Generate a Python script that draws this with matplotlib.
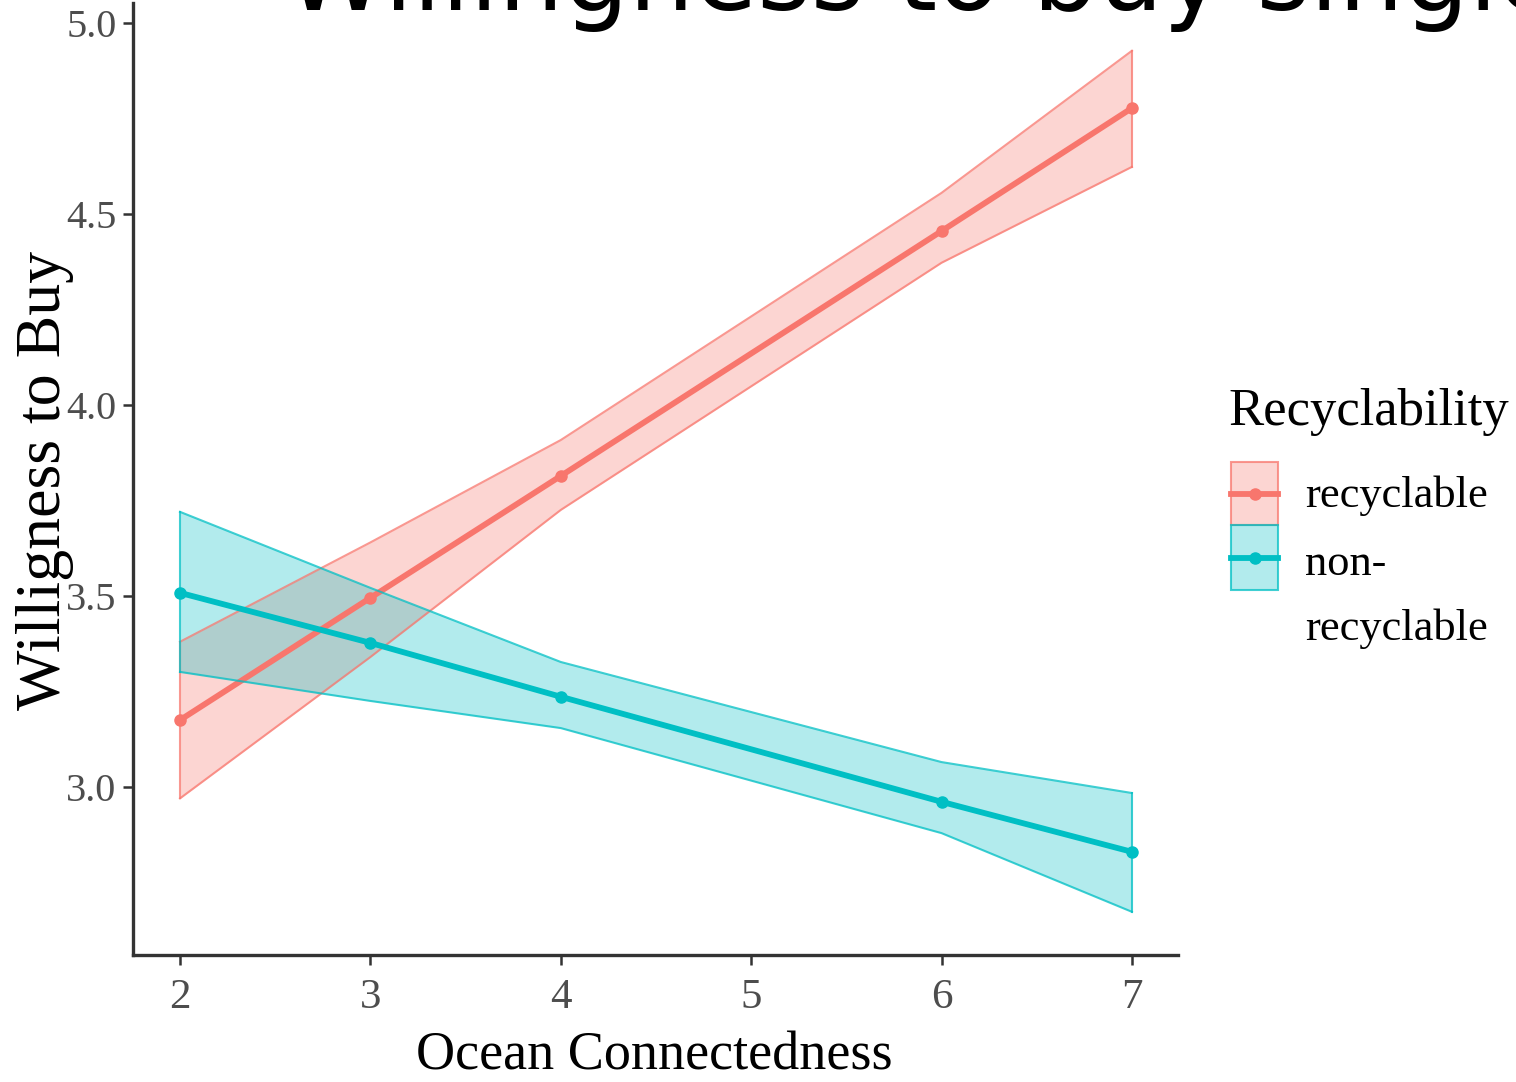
import matplotlib
matplotlib.use("Agg")
import matplotlib.pyplot as plt
from matplotlib.patches import Rectangle
from matplotlib.lines import Line2D

# ---- data ----
x_vals = [2, 3, 4, 6, 7]
rec_mean = [3.175, 3.495, 3.814, 4.455, 4.777]
rec_lo = [2.97, 3.34, 3.725, 4.372, 4.623]
rec_hi = [3.38, 3.64, 3.908, 4.555, 4.927]
non_mean = [3.508, 3.377, 3.236, 2.961, 2.830]
non_lo = [3.301, 3.225, 3.154, 2.879, 2.673]
non_hi = [3.720, 3.521, 3.327, 3.065, 2.984]
x_ticks = [2, 3, 4, 5, 6, 7]
y_ticks = [3.0, 3.5, 4.0, 4.5, 5.0]
y_tick_labels = ["3.0", "3.5", "4.0", "4.5", "5.0"]
series_names = ["recyclable", "non-\nrecyclable"]
legend_title = "Recyclability"
title = "Willingness to buy single-use plastic"

RED = "#F8766D"
CYAN = "#00BFC4"
SERIF = ["Liberation Serif", "DejaVu Serif"]

W, H = 1516, 1082
fig = plt.figure(figsize=(W / 100, H / 100), dpi=100)
ax = fig.add_axes([133 / W, 1 - 955 / H, (1178 - 133) / W, (955 - 3) / H])

for mean, lo, hi, col in [(rec_mean, rec_lo, rec_hi, RED), (non_mean, non_lo, non_hi, CYAN)]:
    ax.fill_between(x_vals, lo, hi, color=col, alpha=0.3, linewidth=0)
    ax.plot(x_vals, lo, color=col, lw=1.5, alpha=0.75)
    ax.plot(x_vals, hi, color=col, lw=1.5, alpha=0.75)
    ax.plot([x_vals[0], x_vals[0]], [lo[0], hi[0]], color=col, lw=1.5, alpha=0.75)
    ax.plot([x_vals[-1], x_vals[-1]], [lo[-1], hi[-1]], color=col, lw=1.5, alpha=0.75)
    ax.plot(x_vals, mean, color=col, lw=4.2, marker="o", ms=8, solid_capstyle="butt")

ax.set_xlim(1.753, 7.242)
ax.set_ylim(2.56, 5.052)
ax.set_xticks(x_ticks)
ax.set_xticklabels([str(t) for t in x_ticks], fontfamily=SERIF, fontsize=31, color="#4D4D4D")
ax.set_yticks(y_ticks)
ax.set_yticklabels(y_tick_labels, fontfamily=SERIF, fontsize=29, color="#4D4D4D")
ax.tick_params(axis="both", length=7, width=1.8, color="#333333")
ax.tick_params(axis="x", pad=10)
ax.tick_params(axis="y", pad=5)
for s in ["top", "right"]:
    ax.spines[s].set_visible(False)
for s in ["left", "bottom"]:
    ax.spines[s].set_linewidth(2.4)
    ax.spines[s].set_color("#333333")

ax.set_xlabel("Ocean Connectedness", fontfamily=SERIF, fontsize=39, color="black")
ax.xaxis.set_label_coords(0.4986, -0.080)
ax.set_ylabel("Willigness to Buy", fontfamily=SERIF, fontsize=46, color="black")
ax.yaxis.set_label_coords(-0.056, 0.499)

# title (clipped at top of figure)
fig.text(285 / W, 1 - 10 / H, title, fontsize=74, fontfamily="DejaVu Sans",
         ha="left", va="baseline", color="black")

# ---- legend drawn in pixel space ----
lax = fig.add_axes([0, 0, 1, 1])
lax.set_xlim(0, W)
lax.set_ylim(H, 0)
lax.axis("off")
lax.patch.set_alpha(0)

lax.text(1228, 425, legend_title, fontfamily=SERIF, fontsize=38, ha="left", va="baseline")
keys = [(462, 525, RED), (525, 590, CYAN)]
for (y0, y1, col) in keys:
    lax.add_patch(Rectangle((1231, y0), 47, y1 - y0, facecolor=col, alpha=0.3, edgecolor="none"))
    lax.add_patch(Rectangle((1231, y0), 47, y1 - y0, facecolor="none", edgecolor=col, alpha=0.75, lw=1.5))
    yc = (y0 + y1) / 2
    lax.add_line(Line2D([1231, 1278], [yc, yc], color=col, lw=4.2))
    lax.add_line(Line2D([1254.5], [yc], color=col, marker="o", ms=8))

lax.text(1305, 507, "recyclable", fontfamily=SERIF, fontsize=32, ha="left", va="baseline")
lax.text(1305, 575, "non-", fontfamily=SERIF, fontsize=32, ha="left", va="baseline")
lax.text(1305, 640, "recyclable", fontfamily=SERIF, fontsize=32, ha="left", va="baseline")

fig.savefig("out.png", dpi=100)
